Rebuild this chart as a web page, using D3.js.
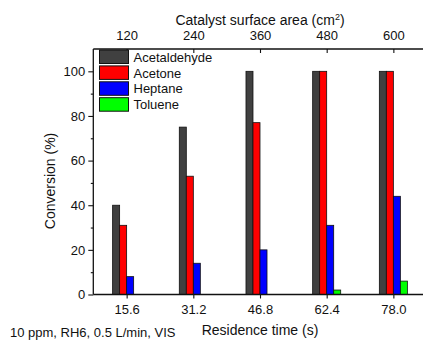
<!DOCTYPE html>
<html>
<head>
<meta charset="utf-8">
<script src="https://cdn.jsdelivr.net/npm/d3@7"></script>
<style>
  html, body { margin: 0; padding: 0; background: #fff; }
  svg { display: block; font-family: "Liberation Sans", Arial, sans-serif; }
</style>
</head>
<body>
<svg id="chart" width="423" height="343"></svg>
<script>
// Residence time groups (bottom axis) and matching catalyst surface area (top axis)
const residenceTimes = [15.6, 31.2, 46.8, 62.4, 78.0];
const residenceLabels = ["15.6", "31.2", "46.8", "62.4", "78.0"];
const surfaceAreas = [120, 240, 360, 480, 600];

// Conversion (%) per compound
const compounds = ["Acetaldehyde", "Acetone", "Heptane", "Toluene"];
const acetaldehyde = [40, 75, 100, 100, 100];
const acetone = [31, 53, 77, 100, 100];
const heptane = [8, 14, 20, 31, 44];
const toluene = [0, 0, 0, 2, 6];
const colors = ["#404040", "#ff0000", "#0000ff", "#00ff00"];

const yTicks = [0, 20, 40, 60, 80, 100];
const yMinorTicks = [10, 30, 50, 70, 90];

const series = [acetaldehyde, acetone, heptane, toluene];

const svg = d3.select("#chart");
const plotLeft = 93.3, plotRight = 426.7, plotTop = 49, plotBottom = 294.5;

const x = d3.scaleLinear().domain([7.8, 85.8]).range([plotLeft, plotRight]);
const xTop = d3.scaleLinear().domain([60, 660]).range([plotLeft, plotRight]);
const y = d3.scaleLinear().domain([0, 110]).range([plotBottom, plotTop]);

const barW = 1.64; // bar width in residence-time units

// Bars
series.forEach((vals, si) => {
  svg.append("g")
    .selectAll("rect")
    .data(vals.map((v, i) => ({ t: residenceTimes[i], v })).filter(d => d.v > 0))
    .join("rect")
    .attr("x", d => x(d.t + (si - 2) * barW))
    .attr("width", d => x(d.t + (si - 1) * barW) - x(d.t + (si - 2) * barW))
    .attr("y", d => y(d.v))
    .attr("height", d => y(0) - y(d.v))
    .attr("fill", colors[si])
    .attr("stroke", "#111")
    .attr("stroke-width", 0.8);
});

const tickFont = 13;

// Bottom axis
const xAxis = svg.append("g")
  .attr("transform", `translate(0,${plotBottom})`)
  .call(d3.axisBottom(x).tickValues(residenceTimes)
    .tickFormat((d, i) => residenceLabels[i]).tickSize(4).tickPadding(6));

// Top axis (ticks point inward)
const xTopAxis = svg.append("g")
  .attr("transform", `translate(0,${plotTop})`)
  .call(d3.axisTop(xTop).tickValues(surfaceAreas).tickSize(-4).tickPadding(9));

// Left axis with minor ticks
const yAxis = svg.append("g")
  .attr("transform", `translate(${plotLeft},0)`)
  .call(d3.axisLeft(y).tickValues(yTicks).tickSize(5).tickPadding(3));
svg.append("g")
  .attr("transform", `translate(${plotLeft},0)`)
  .call(d3.axisLeft(y).tickValues(yMinorTicks).tickSize(2.5).tickFormat(""))
  .select(".domain").remove();

[xAxis, xTopAxis, yAxis].forEach(g => {
  g.select(".domain").remove();
  g.selectAll("text").attr("font-size", tickFont).attr("fill", "#111")
    .attr("font-family", "Liberation Sans, Arial, sans-serif");
});
svg.selectAll(".tick line").attr("stroke", "#111").attr("stroke-width", 1.1);

// Axis lines
const axisLines = [
  [plotLeft, plotBottom, plotRight, plotBottom],
  [plotLeft, plotTop, plotRight, plotTop],
  [plotLeft, plotTop, plotLeft, plotBottom]
];
svg.append("g").selectAll("line").data(axisLines).join("line")
  .attr("x1", d => d[0]).attr("y1", d => d[1]).attr("x2", d => d[2]).attr("y2", d => d[3])
  .attr("stroke", "#111").attr("stroke-width", 1.3);

// Axis titles
svg.append("text").attr("x", 260).attr("y", 335).attr("text-anchor", "middle")
  .attr("font-size", 14).attr("fill", "#111").text("Residence time (s)");

const topTitle = svg.append("text").attr("x", 260).attr("y", 25).attr("text-anchor", "middle")
  .attr("font-size", 14).attr("fill", "#111");
topTitle.append("tspan").text("Catalyst surface area (cm");
topTitle.append("tspan").attr("font-size", 9).attr("dy", -5).text("2");
topTitle.append("tspan").attr("dy", 5).text(")");

svg.append("text")
  .attr("transform", "translate(55,181) rotate(-90)")
  .attr("text-anchor", "middle").attr("font-size", 14).attr("fill", "#111")
  .text("Conversion (%)");

// Condition note
svg.append("text").attr("x", 10).attr("y", 337).attr("font-size", 13).attr("fill", "#111")
  .text("10 ppm, RH6, 0.5 L/min, VIS");

// Legend
const legend = svg.append("g").attr("transform", "translate(99.5,50)");
compounds.forEach((name, i) => {
  const row = legend.append("g").attr("transform", `translate(0,${i * 15.9})`);
  row.append("rect").attr("width", 29).attr("height", 13.5)
    .attr("fill", colors[i]).attr("stroke", "#111").attr("stroke-width", 1);
  row.append("text").attr("x", 34).attr("y", 7).attr("dy", "0.36em")
    .attr("font-size", 13).attr("fill", "#111").text(name);
});
</script>
</body>
</html>
